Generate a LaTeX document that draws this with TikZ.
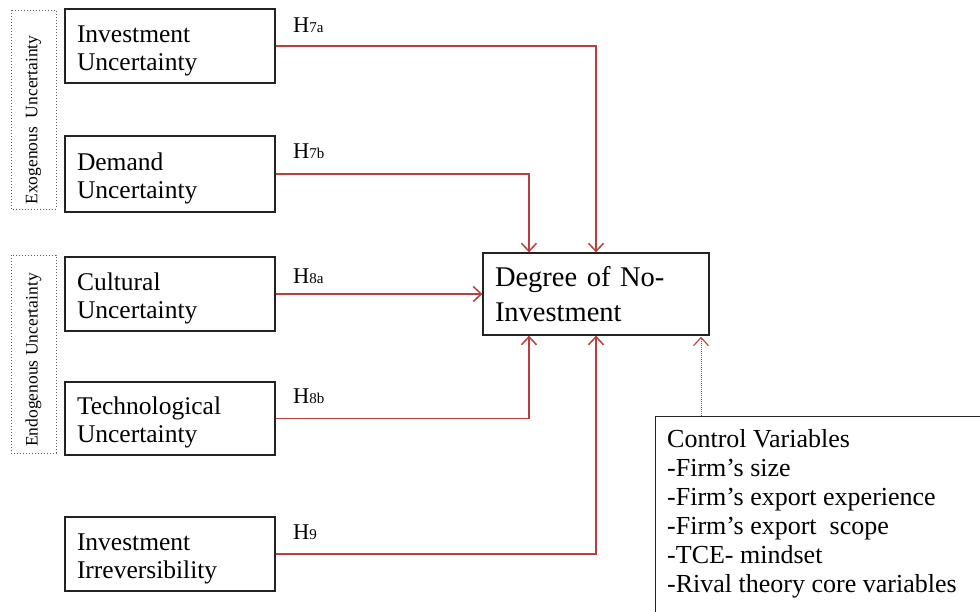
\documentclass[tikz,border=0pt]{standalone}
\usepackage{fontspec}
\setmainfont{Liberation Serif}
\usetikzlibrary{arrows.meta}
\definecolor{relred}{RGB}{185,62,60}
\definecolor{boxline}{RGB}{35,35,35}
\definecolor{dotline}{RGB}{90,90,90}
\tikzset{
  varbox/.style={draw=boxline, line width=1.3pt, fill=white, inner xsep=12pt, inner ysep=0pt,
    text width=186pt, minimum height=74pt, align=left, font=\fontsize{25.5}{28}\selectfont},
  groupbox/.style={draw=dotline, dotted, line width=1pt, rotate=90, minimum height=45pt, inner sep=0pt},
  grouptext/.style={rotate=90, inner sep=0pt, font=\fontsize{17.5}{20}\selectfont},
  hyp/.style={anchor=base west, inner sep=0pt, font=\fontsize{22.5}{24}\selectfont},
  rel/.style={draw=relred, line width=1.4pt, -{Straight Barb[length=8pt,width=15pt,line width=1.5pt]}},
  ctrlrel/.style={draw=relred, line width=1pt, densely dotted, -{Straight Barb[length=8pt,width=15pt,line width=1.1pt,sep]}},
}
\newcommand{\hsub}[1]{{\fontsize{15}{16}\selectfont #1}}
% invisible strut that keeps the first text line at a fixed height
\newcommand{\topstrut}{\rule{0pt}{26pt}}
\begin{document}
\begin{tikzpicture}[x=1pt, y=-1pt]
\clip (0,0) rectangle (980,611);
\fill[white] (0,0) rectangle (980,611);

% grouping frames with rotated captions
\node[groupbox, minimum width=199pt] (exo) at (33.5,109.5) {};
\node[grouptext] (exot) at (33.5,120) {Exogenous\ \ Uncertainty};
\node[groupbox, minimum width=198pt] (endo) at (33.5,354) {};
\node[grouptext] (endot) at (33.5,360) {Endogenous Uncertainty};

% independent variables
\node[varbox] (inv) at (170,46)  {\topstrut Investment\\Uncertainty};
\node[varbox, minimum height=76pt] (dem) at (170,174) {\topstrut Demand\\Uncertainty};
\node[varbox] (cul) at (170,294) {\topstrut Cultural\\Uncertainty};
\node[varbox, minimum height=73pt] (tec) at (170,418.5) {\topstrut Technological\\Uncertainty};
\node[varbox] (irr) at (170,554) {\topstrut Investment\\Irreversibility};

% dependent variable
\node[draw=boxline, line width=1.3pt, fill=white, inner xsep=12pt, inner ysep=0pt,
  text width=202pt, minimum height=82pt, align=left,
  font=\fontsize{28.5}{35}\selectfont] (deg) at (596,294) {Degree of No-\\Investment};

% control variables box (runs past the frame on the right and bottom)
\node[draw=boxline, line width=1.3pt, anchor=north west, minimum width=340pt,
  minimum height=220pt, inner sep=0pt] (ctl) at (655,416) {};
\node[anchor=north west, inner sep=0pt, align=left, font=\fontsize{26}{29}\selectfont]
  (ctltext) at (667,429.5) {Control Variables\\-Firm’s size\\-Firm’s export experience\\-Firm’s export\ \ scope\\-TCE- mindset\\-Rival theory core variables};
\coordinate (ctltop) at (701,416);

% hypothesised relations
\draw[rel] (inv.east) -| (deg.north);
\draw[rel] (dem.east) -| ([xshift=-67pt]deg.north);
\draw[rel] (cul.east) -- (deg.west);
\draw[rel] (tec.east) -| ([xshift=-67pt]deg.south);
\draw[rel] (irr.east) -| (deg.south);
\draw[ctrlrel] (ctltop) -- (ctltop |- deg.south);

% hypothesis labels
\node[hyp] (h7a) at (293,32)  {H\hsub{7a}};
\node[hyp] (h7b) at (293,158) {H\hsub{7b}};
\node[hyp] (h8a) at (293,283) {H\hsub{8a}};
\node[hyp] (h8b) at (293,403) {H\hsub{8b}};
\node[hyp] (h9)  at (293,539) {H\hsub{9}};
\end{tikzpicture}
\end{document}
